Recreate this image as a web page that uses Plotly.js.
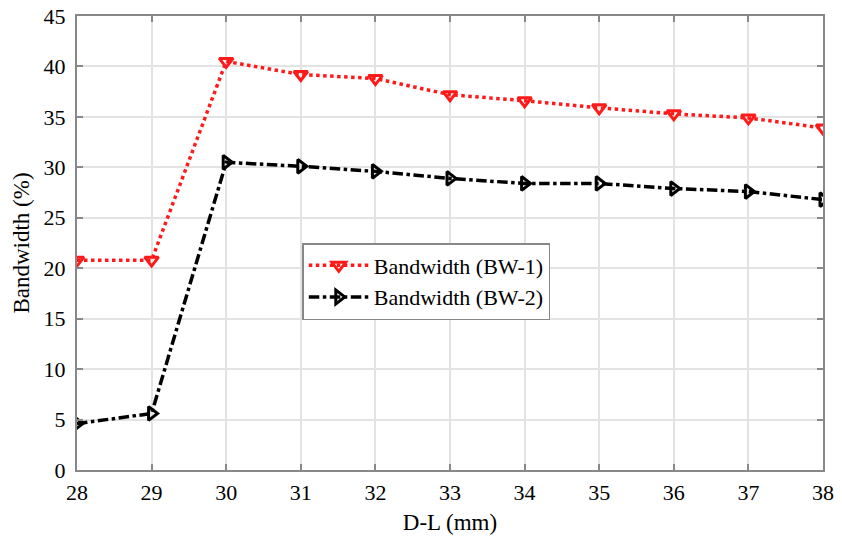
<!DOCTYPE html>
<html><head><meta charset="utf-8">
<script src="https://cdn.plot.ly/plotly-3.0.1.min.js"></script>
<style>html,body{margin:0;padding:0;background:#fff}#chart{width:842px;height:538px}</style>
</head><body><div id="chart"></div>
<script>
var dl = [28, 29, 30, 31, 32, 33, 34, 35, 36, 37, 38];
var bw1 = [20.8, 20.8, 40.5, 39.2, 38.8, 37.2, 36.6, 35.9, 35.3, 34.9, 33.9];
var bw2 = [4.6, 5.6, 30.5, 30.1, 29.6, 28.9, 28.4, 28.4, 27.9, 27.6, 26.8];
var names = ['Bandwidth (BW-1)', 'Bandwidth (BW-2)'];
var xTicks = [28, 29, 30, 31, 32, 33, 34, 35, 36, 37, 38];
var yTicks = [0, 5, 10, 15, 20, 25, 30, 35, 40, 45];

var serif = 'Liberation Serif, Times New Roman, serif';
var traces = [
  {x: dl, y: bw1, name: names[0], mode: 'lines+markers',
   line: {color: '#ff1a1a', width: 3.5, dash: 'dot'},
   marker: {symbol: 'triangle-down-open', size: 12, color: '#ff1a1a', line: {width: 3, color: '#ff1a1a'}}},
  {x: dl, y: bw2, name: names[1], mode: 'lines+markers',
   line: {color: '#000', width: 3.5, dash: 'dashdot'},
   marker: {symbol: 'triangle-right-open', size: 12, color: '#000', line: {width: 3, color: '#000'}}}
];
var tickFont = {family: serif, size: 22, color: '#000'};
var titleFont = {family: serif, size: 23, color: '#000'};
var layout = {
  width: 842, height: 538,
  margin: {l: 77, r: 19, t: 16, b: 68},
  paper_bgcolor: '#fff', plot_bgcolor: '#fff',
  showlegend: true,
  legend: {x: 0.302, y: 0.500, xanchor: 'left', yanchor: 'top',
    bgcolor: '#fff', bordercolor: '#888', borderwidth: 1.5,
    font: {family: serif, size: 22, color: '#000'},
    tracegroupgap: 0, itemwidth: 60},
  xaxis: {range: [28, 38], tickvals: xTicks, ticktext: xTicks.map(String),
    showgrid: true, gridcolor: '#e3e3e3', gridwidth: 1.5,
    showline: true, linecolor: '#888', linewidth: 2, mirror: 'ticks',
    ticks: 'inside', ticklen: 6, tickcolor: '#888', tickwidth: 1.5, zeroline: false,
    tickfont: tickFont, ticklabelstandoff: 2,
    title: {text: 'D-L (mm)', font: titleFont, standoff: 9}},
  yaxis: {range: [0, 45], tickvals: yTicks, ticktext: yTicks.map(String),
    showgrid: true, gridcolor: '#e3e3e3', gridwidth: 1.5,
    showline: true, linecolor: '#888', linewidth: 2, mirror: 'ticks',
    ticks: 'inside', ticklen: 6, tickcolor: '#888', tickwidth: 1.5, zeroline: false,
    tickfont: tickFont, ticklabelstandoff: 5,
    title: {text: 'Bandwidth (%)', font: titleFont, standoff: 8}}
};
Plotly.newPlot('chart', traces, layout, {displayModeBar: false});
</script></body></html>
